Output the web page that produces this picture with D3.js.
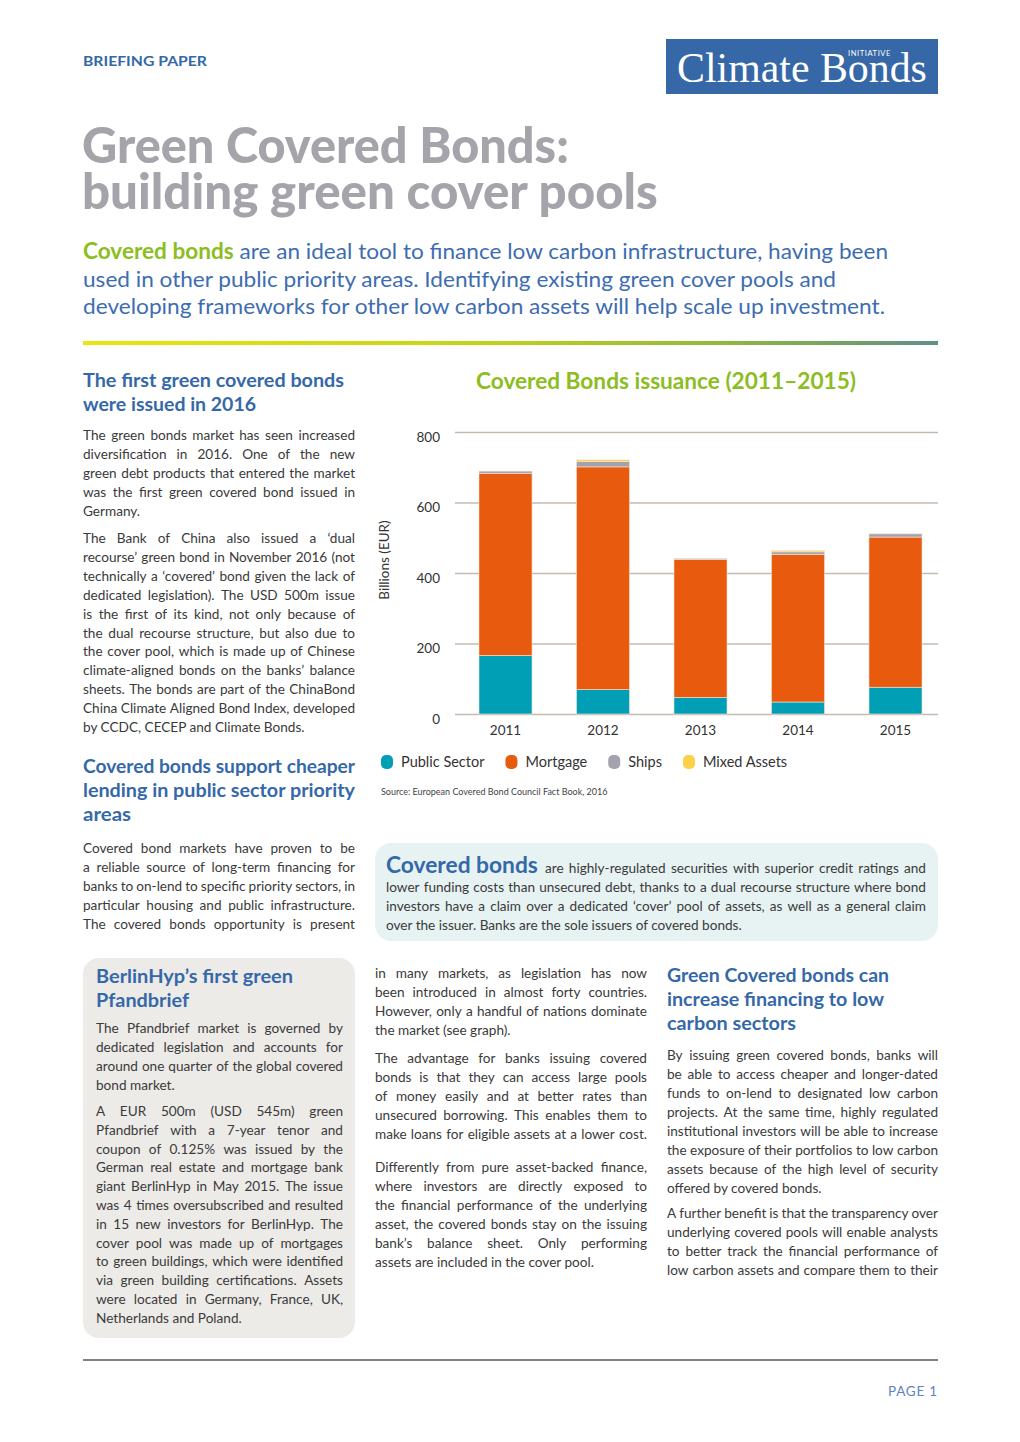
<!DOCTYPE html>
<html><head><meta charset="utf-8">
<script src="https://cdn.jsdelivr.net/npm/d3@7"></script>
<style>
html,body{margin:0;padding:0;background:#fff;}
svg{display:block;}
</style></head><body>
<svg id="page" width="1020" height="1442"></svg>
<script>
// ---------------- chart data ----------------
const years = ["2011", "2012", "2013", "2014", "2015"];
const seriesNames = ["Public Sector", "Mortgage", "Ships", "Mixed Assets"];
const publicSector = [166, 69, 47, 34, 76];
const mortgage = [517, 632, 391, 419, 426];
const ships = [6, 15, 3, 7, 9];
const mixedAssets = [0, 5, 0, 4, 0];
const yTicks = [0, 200, 400, 600, 800];
const seriesColors = ["#019FB6", "#E85A0E", "#A4A3AD", "#FDD148"];
const chartTitle = "Covered Bonds issuance (2011\u20132015)";
const yAxisLabel = "Billions (EUR)";
const sourceNote = "Source: European Covered Bond Council Fact Book, 2016";

// ---------------- page text ----------------
const FONT = "Lato, 'Open Sans', sans-serif";
const SERIF = "'Liberation Serif', 'DejaVu Serif', serif";
const BODY = "#3a3a3a", HEAD = "#3568A8", GREEN = "#8CBD22";
const BODY_SIZE = 13.6;

const svg = d3.select("#page");
const measurer = svg.append("text").attr("visibility", "hidden");
function measure(str, size, weight, family) {
  measurer.attr("font-family", family || FONT).attr("font-size", size).attr("font-weight", weight || 400).text(str);
  return measurer.node().getComputedTextLength();
}

// draw a line of body text, justified across width w when justify=true
function bodyLine(g, line, x, y, w, justify, size, color, weight) {
  size = size || BODY_SIZE; color = color || BODY; weight = weight || 400;
  const t = g.append("text").attr("x", x).attr("y", y).attr("font-family", FONT)
    .attr("font-size", size).attr("font-weight", weight).attr("fill", color);
  const natural = measure(line, size, weight);
  const words = line.split(" ");
  if (!justify || words.length < 2) {
    t.text(line);
    if (natural > w) t.attr("textLength", w).attr("lengthAdjust", "spacingAndGlyphs");
    return t;
  }
  const ws = words.map(d => measure(d, size, weight));
  const sum = d3.sum(ws);
  const gap = (w - sum) / (words.length - 1);
  if (gap < 2.6) {
    t.text(line).attr("textLength", w).attr("lengthAdjust", "spacingAndGlyphs");
    return t;
  }
  let cx = x;
  words.forEach((wd, i) => {
    t.append("tspan").attr("x", cx).text(wd);
    cx += ws[i] + gap;
  });
  return t;
}
function paragraph(g, lines, x, y, lh, w, continues, size) {
  lines.forEach((ln, i) => {
    const justify = i < lines.length - 1 || continues;
    bodyLine(g, ln, x, y + i * lh, w, justify, size);
  });
}
function heading(g, lines, x, y, lh, widths, size, color, weight) {
  lines.forEach((ln, i) => {
    g.append("text").attr("x", x).attr("y", y + i * lh).attr("font-family", FONT)
      .attr("font-size", size || 19).attr("font-weight", weight || 700).attr("fill", color || HEAD)
      .attr("textLength", widths[i]).attr("lengthAdjust", "spacingAndGlyphs").text(ln);
  });
}

const page = svg.append("g");

// header
page.append("text").attr("x", 83).attr("y", 66).attr("font-family", FONT).attr("font-size", 13)
  .attr("font-weight", 700).attr("fill", HEAD).attr("textLength", 124).attr("lengthAdjust", "spacingAndGlyphs")
  .text("BRIEFING PAPER");
page.append("rect").attr("x", 666).attr("y", 39).attr("width", 272).attr("height", 55).attr("fill", "#3667A6");
{
  // logo wordmark as one text element
  const logoSize = 46 * 250 / measure("Climate Bonds", 46, 400, SERIF);
  const t = page.append("text").attr("x", 677).attr("y", 82).attr("fill", "#fff");
  t.append("tspan").attr("font-family", SERIF).attr("font-size", logoSize).text("Climate Bonds");
  t.append("tspan").attr("x", 848).attr("y", 56).attr("font-family", FONT).attr("font-size", 7.5)
    .attr("letter-spacing", 0.6).text("INITIATIVE");
}

// title: two lines in one text element, each sized to the reference width
{
  const tl = ["Green Covered Bonds:", "building green cover pools"];
  const tw = [487, 576];
  const t = page.append("text").attr("font-family", FONT).attr("font-weight", 900).attr("fill", "#A5A4AA");
  tl.forEach((ln, i) => {
    const fs = 47 * tw[i] / measure(ln, 47, 900);
    t.append("tspan").attr("x", 82).attr("y", 163 + i * 46).attr("font-size", fs).text(ln);
  });
}

// intro
const introLines = [
  [["Covered bonds", true], [" are an ideal tool to finance low carbon infrastructure, having been", false]],
  [["used in other public priority areas. Identifying existing green cover pools and", false]],
  [["developing frameworks for other low carbon assets will help scale up investment.", false]]
];
const introW = [805, 753, 802];
introLines.forEach((segs, i) => {
  const t = page.append("text").attr("x", 83).attr("y", 259 + i * 27.5).attr("font-family", FONT)
    .attr("font-size", 22).attr("textLength", introW[i]).attr("lengthAdjust", "spacingAndGlyphs");
  segs.forEach(s => t.append("tspan").attr("font-weight", s[1] ? 700 : 400)
    .attr("fill", s[1] ? GREEN : "#3D6DB0").text(s[0]));
});

// gradient rule
const defs = svg.append("defs");
const grad = defs.append("linearGradient").attr("id", "rule");
[[0, "#EDE40C"], [0.45, "#C4D516"], [0.75, "#8FB93C"], [1, "#5E9087"]].forEach(s =>
  grad.append("stop").attr("offset", s[0]).attr("stop-color", s[1]));
page.append("rect").attr("x", 83).attr("y", 341).attr("width", 855).attr("height", 4).attr("fill", "url(#rule)");

// left column
heading(page, ["The first green covered bonds", "were issued in 2016"], 83, 387, 24, [261, 173]);
paragraph(page, [
  "The green bonds market has seen increased",
  "diversification in 2016. One of the new",
  "green debt products that entered the market",
  "was the first green covered bond issued in",
  "Germany."], 83, 440, 19, 272);
paragraph(page, [
  "The Bank of China also issued a \u2018dual",
  "recourse\u2019 green bond in November 2016 (not",
  "technically a \u2018covered\u2019 bond given the lack of",
  "dedicated legislation). The USD 500m issue",
  "is the first of its kind, not only because of",
  "the dual recourse structure, but also due to",
  "the cover pool, which is made up of Chinese",
  "climate-aligned bonds on the banks\u2019 balance",
  "sheets. The bonds are part of the ChinaBond",
  "China Climate Aligned Bond Index, developed",
  "by CCDC, CECEP and Climate Bonds."], 83, 543, 18.9, 272);
heading(page, ["Covered bonds support cheaper", "lending in public sector priority", "areas"], 83, 773, 24, [272, 272, 48]);
paragraph(page, [
  "Covered bond markets have proven to be",
  "a reliable source of long-term financing for",
  "banks to on-lend to specific priority sectors, in",
  "particular housing and public infrastructure.",
  "The covered bonds opportunity is present"], 83, 853, 19, 272, true);

// BerlinHyp box
page.append("rect").attr("x", 83).attr("y", 958).attr("width", 272).attr("height", 380).attr("rx", 16).attr("fill", "#EDEBE8");
heading(page, ["BerlinHyp\u2019s first green", "Pfandbrief"], 96, 983, 24, [197, 93]);
paragraph(page, [
  "The Pfandbrief market is governed by",
  "dedicated legislation and accounts for",
  "around one quarter of the global covered",
  "bond market."], 96, 1033, 19, 247);
paragraph(page, [
  "A EUR 500m (USD 545m) green",
  "Pfandbrief with a 7-year tenor and",
  "coupon of 0.125% was issued by the",
  "German real estate and mortgage bank",
  "giant BerlinHyp in May 2015. The issue",
  "was 4 times oversubscribed and resulted",
  "in 15 new investors for BerlinHyp. The",
  "cover pool was made up of mortgages",
  "to green buildings, which were identified",
  "via green building certifications. Assets",
  "were located in Germany, France, UK,",
  "Netherlands and Poland."], 96, 1116, 18.8, 247);

// covered bonds definition box
page.append("rect").attr("x", 375).attr("y", 843).attr("width", 563).attr("height", 98).attr("rx", 16).attr("fill", "#E7F3F3");
{
  const lead = "Covered bonds";
  const leadSize = 25 * 152 / measure(lead, 25, 700);
  const rest = "are highly-regulated securities with superior credit ratings and".split(" ");
  const ws = rest.map(d => measure(d, BODY_SIZE, 400));
  const startX = 386 + 152 + 7, endX = 926;
  const gap = (endX - startX - d3.sum(ws)) / (rest.length - 1);
  const t = page.append("text").attr("x", 386).attr("y", 873).attr("font-family", FONT);
  t.append("tspan").attr("font-size", leadSize).attr("font-weight", 700).attr("fill", HEAD).text(lead);
  let cx = startX;
  rest.forEach((wd, i) => {
    t.append("tspan").attr("x", cx).attr("font-size", BODY_SIZE).attr("fill", BODY).text(wd);
    cx += ws[i] + gap;
  });
}
bodyLine(page, "lower funding costs than unsecured debt, thanks to a dual recourse structure where bond", 386, 892, 540, true);
bodyLine(page, "investors have a claim over a dedicated \u2018cover\u2019 pool of assets, as well as a general claim", 386, 911, 540, true);
bodyLine(page, "over the issuer. Banks are the sole issuers of covered bonds.", 386, 930, 540, false);

// middle column
paragraph(page, [
  "in many markets, as legislation has now",
  "been introduced in almost forty countries.",
  "However, only a handful of nations dominate",
  "the market (see graph)."], 375, 978, 19, 272);
paragraph(page, [
  "The advantage for banks issuing covered",
  "bonds is that they can access large pools",
  "of money easily and at better rates than",
  "unsecured borrowing. This enables them to",
  "make loans for eligible assets at a lower cost."], 375, 1063, 19, 272, true);
paragraph(page, [
  "Differently from pure asset-backed finance,",
  "where investors are directly exposed to",
  "the financial performance of the underlying",
  "asset, the covered bonds stay on the issuing",
  "bank\u2019s balance sheet. Only performing",
  "assets are included in the cover pool."], 375, 1172, 19, 272);

// right column
heading(page, ["Green Covered bonds can", "increase financing to low", "carbon sectors"], 667, 982, 24, [222, 217, 129]);
paragraph(page, [
  "By issuing green covered bonds, banks will",
  "be able to access cheaper and longer-dated",
  "funds to on-lend to designated low carbon",
  "projects. At the same time, highly regulated",
  "institutional investors will be able to increase",
  "the exposure of their portfolios to low carbon",
  "assets because of the high level of security",
  "offered by covered bonds."], 667, 1060, 19, 271);
paragraph(page, [
  "A further benefit is that the transparency over",
  "underlying covered pools will enable analysts",
  "to better track the financial performance of",
  "low carbon assets and compare them to their"], 667, 1218, 19, 271, true);

// footer
page.append("line").attr("x1", 83).attr("x2", 938).attr("y1", 1360).attr("y2", 1360)
  .attr("stroke", "#808080").attr("stroke-width", 2);
page.append("text").attr("x", 938).attr("y", 1396).attr("text-anchor", "end").attr("font-family", FONT)
  .attr("font-size", 13.5).attr("fill", "#5B83C4").attr("letter-spacing", 0.8).text("PAGE 1");

// ---------------- chart ----------------
const chart = svg.append("g");
const x0 = 455, x1 = 938;
const y = d3.scaleLinear().domain([0, 800]).range([714, 432]);
const x = d3.scaleBand().domain(years).range([459, 942]).paddingInner(0.456).paddingOuter(0.205);

chart.append("text").attr("x", 666).attr("y", 389).attr("text-anchor", "middle").attr("font-family", FONT)
  .attr("font-size", 22).attr("font-weight", 700).attr("fill", GREEN)
  .attr("textLength", 380).attr("lengthAdjust", "spacingAndGlyphs").text(chartTitle);

const yAxis = d3.axisLeft(y).tickValues(yTicks).tickSize(-(x1 - x0)).tickPadding(15).tickFormat(d3.format("d"));
chart.append("g").attr("transform", `translate(${x0},0)`).call(yAxis)
  .call(a => a.select(".domain").remove())
  .call(a => a.selectAll(".tick line").attr("stroke", "#C6BAAE").attr("stroke-width", 1.3))
  .call(a => a.selectAll(".tick text").attr("font-family", FONT).attr("font-size", 13.5)
    .attr("fill", "#333").attr("dy", "0.7em"));

const table = years.map((yr, i) => ({
  year: yr, "Public Sector": publicSector[i], "Mortgage": mortgage[i],
  "Ships": ships[i], "Mixed Assets": mixedAssets[i]
}));
const stacked = d3.stack().keys(seriesNames)(table);
chart.append("g").selectAll("g").data(stacked).join("g")
  .attr("fill", (d, i) => seriesColors[i])
  .selectAll("rect").data(d => d.filter(s => s[1] - s[0] > 0)).join("rect")
  .attr("x", d => x(d.data.year)).attr("width", x.bandwidth())
  .attr("y", d => y(d[1])).attr("height", d => y(d[0]) - y(d[1]))
  .attr("stroke", "#F6E4D8").attr("stroke-width", 0.6);

const xAxis = d3.axisBottom(x).tickSize(0).tickPadding(11);
chart.append("g").attr("transform", `translate(0,${y(0)})`).call(xAxis)
  .call(a => a.select(".domain").remove())
  .call(a => a.selectAll(".tick text").attr("font-family", FONT).attr("font-size", 13.5).attr("fill", "#333"));

chart.append("text").attr("transform", "translate(389,560) rotate(-90)").attr("text-anchor", "middle")
  .attr("font-family", FONT).attr("font-size", 13.5).attr("fill", "#333").text(yAxisLabel);

// legend
const legend = chart.append("g");
let lx = 381;
seriesNames.forEach((name, i) => {
  legend.append("rect").attr("x", lx).attr("y", 755).attr("width", 12).attr("height", 14).attr("rx", 5)
    .attr("fill", seriesColors[i]);
  const t = legend.append("text").attr("x", lx + 20).attr("y", 767).attr("font-family", FONT)
    .attr("font-size", 14.5).attr("fill", "#333").text(name);
  lx += 20 + t.node().getComputedTextLength() + 21;
});
chart.append("text").attr("x", 381).attr("y", 795).attr("font-family", FONT).attr("font-size", 9)
  .attr("fill", "#444").text(sourceNote);
</script>
</body></html>
